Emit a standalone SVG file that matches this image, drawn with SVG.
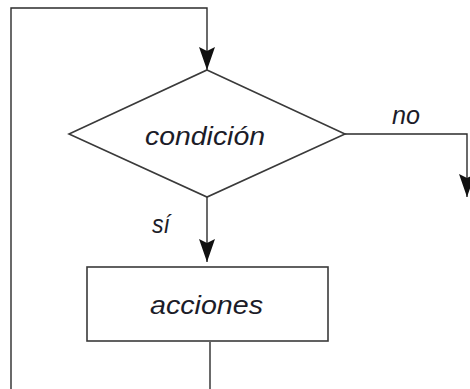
<svg xmlns="http://www.w3.org/2000/svg" width="470" height="389" viewBox="0 0 470 389">
<style>
.ln{fill:none;stroke:#2b2b2b;stroke-width:1.4}
.sh{fill:#fff;stroke:#3a3a3a;stroke-width:1.6}
.tx{font-family:"Liberation Sans",Arial,sans-serif;font-style:italic;font-size:26px;fill:#1c1c28}
.ah{fill:#111}
</style>
<defs>
<marker id="arr" markerUnits="userSpaceOnUse" markerWidth="24" markerHeight="18" refX="23" refY="8" orient="auto">
<path class="ah" d="M0,0 L23,8 L0,16 L4,8 Z"/>
</marker>
</defs>
<g id="connectors">
<path class="ln" d="M210,389 V342"/>
<path class="ln" d="M11,389 V8 H207 V70" marker-end="url(#arr)"/>
<path class="ln" d="M207,197 V262" marker-end="url(#arr)"/>
<path class="ln" d="M345,134 H467 V197" marker-end="url(#arr)"/>
<text class="tx" x="392" y="124" textLength="28" lengthAdjust="spacingAndGlyphs">no</text>
<text class="tx" x="152" y="233" textLength="18" lengthAdjust="spacingAndGlyphs">sí</text>
</g>
<g id="condicion">
<polygon class="sh" points="207,70 345,134 207,197 69,134"/>
<text class="tx" x="145" y="145" textLength="120" lengthAdjust="spacingAndGlyphs">condición</text>
</g>
<g id="acciones">
<rect class="sh" x="87" y="267" width="241" height="74"/>
<text class="tx" x="150" y="314" textLength="113" lengthAdjust="spacingAndGlyphs">acciones</text>
</g>
</svg>
